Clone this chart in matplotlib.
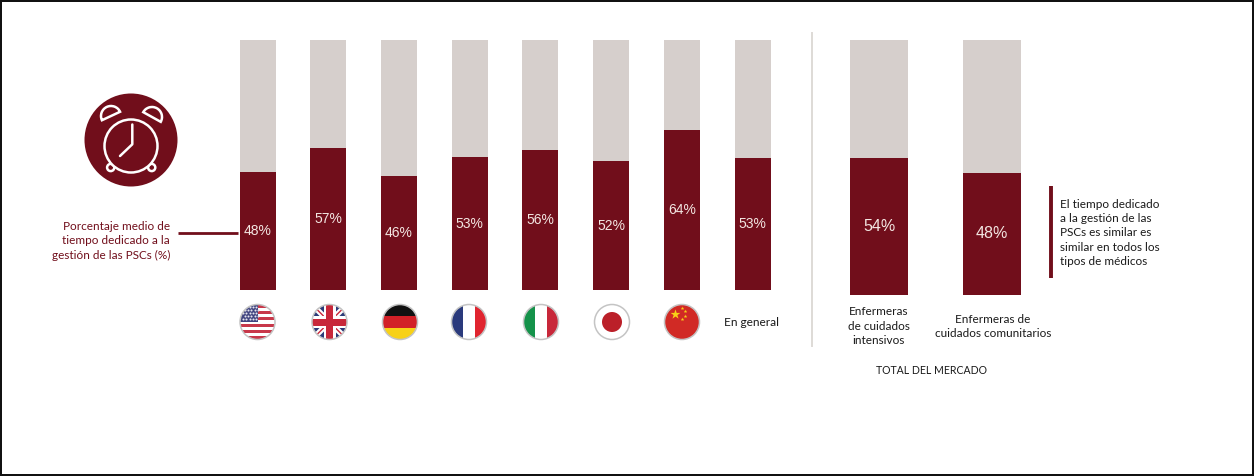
import matplotlib
matplotlib.use("Agg")
import matplotlib.pyplot as plt
from matplotlib.patches import Circle, Rectangle, Wedge

# ---- data ----
country_keys = ["US", "UK", "DE", "FR", "IT", "JP", "CN", "ALL"]
country_labels = [48, 57, 46, 53, 56, 52, 64, 53]          # printed percentages
country_heights = [47.4, 56.7, 45.5, 53.1, 55.9, 51.4, 64.0, 52.9]  # bar heights
nurse_labels_pct = [54, 48]
nurse_heights = [53.9, 48.0]
nurse_labels = ["Enfermeras\nde cuidados\nintensivos", "Enfermeras de\ncuidados comunitarios"]
overall_label = "En general"
metric_label = "Porcentaje medio de\ntiempo dedicado a la\ngestión de las PSCs (%)"
market_label = "TOTAL DEL MERCADO"
note_lines = ["El tiempo dedicado", "a la gestión de las", "PSCs es similar es",
              "similar en todos los", "tipos de médicos"]

W, H = 1254, 476
DARK = "#710e1b"
GREY = "#d6cfcc"
LABEL = "#f3e6e2"
INK = "#1a1a1a"
FONT = ["Lato", "DejaVu Sans"]
NUM = ["Liberation Sans", "DejaVu Sans"]
TXT = 8.45
LS = 1.36

fig = plt.figure(figsize=(W / 100, H / 100), dpi=100, facecolor="white")


def axes_px(x0, y0, x1, y1, **kw):
    return fig.add_axes([x0 / W, 1 - y1 / H, (x1 - x0) / W, (y1 - y0) / H], **kw)


def stacked(ax, heights, labels, width, size):
    xs = range(len(heights))
    ax.bar(xs, [100] * len(heights), width=width, color=GREY, linewidth=0)
    ax.bar(xs, heights, width=width, color=DARK, linewidth=0)
    for x, h, v in zip(xs, heights, labels):
        ax.text(x, h / 2, f"{v}%", ha="center", va="center", color=LABEL,
                fontsize=size, family=NUM)
    ax.set_ylim(0, 100)
    ax.axis("off")


# left group
pitch = (752.5 - 257.5) / 7
ax1 = axes_px(257.5 - pitch / 2, 40, 752.5 + pitch / 2, 290)
ax1.set_xlim(-0.5, 7.5)
stacked(ax1, country_heights, country_labels, 36 / pitch, 10)

# right group
pitch2 = 992 - 879
ax2 = axes_px(879 - pitch2 / 2, 40, 992 + pitch2 / 2, 295)
ax2.set_xlim(-0.5, 1.5)
stacked(ax2, nurse_heights, nurse_labels_pct, 57.5 / pitch2, 11.5)

# overlay in pixel coordinates for the decoration
ov = fig.add_axes([0, 0, 1, 1], zorder=5)
ov.set_xlim(0, W)
ov.set_ylim(H, 0)
ov.axis("off")
ov.patch.set_alpha(0)

# frame
for r in [(0, 0, W, 1.5), (0, 0, 2, H), (W - 2, 0, 2, H), (0, H - 2.5, W, 2.5)]:
    ov.add_patch(Rectangle(r[:2], r[2], r[3], fc="#111111", ec="none"))

# clock icon
ov.add_patch(Circle((131, 140), 46.5, fc=DARK, ec="none"))
lw_i = 1.8
ov.add_patch(Wedge((111, 116), 10, 155, 335, fc="none", ec="white", lw=lw_i))
ov.add_patch(Wedge((152, 117), 10, 209, 389, fc="none", ec="white", lw=lw_i))
for fx in (110.7, 151.7):
    ov.add_patch(Circle((fx, 167.5), 3.6, fc=DARK, ec="white", lw=lw_i, zorder=1.5))
ov.add_patch(Circle((131, 146), 26.5, fc=DARK, ec="white", lw=lw_i, zorder=1.6))
ov.plot([132.3, 132.3, 120], [124.5, 144.3, 156], color="white", lw=lw_i,
        solid_capstyle="round", solid_joinstyle="round", zorder=2)

# left callout
ov.text(170, 241, metric_label, ha="right", va="center", color=DARK, fontsize=TXT,
        family=FONT, linespacing=LS, multialignment="right")
ov.plot([178, 238], [232.5, 232.5], color=DARK, lw=2, solid_capstyle="butt")

# separator
ov.plot([812, 812], [33, 346], color="#dedad6", lw=1.4)

# flags
fy, fr = 322, 17.5


def flag_base(cx):
    return Circle((cx, fy), fr, transform=ov.transData)


def rect(clip, x, y, w, h, c, z=1):
    p = Rectangle((x, y), w, h, fc=c, ec="none", zorder=z)
    ov.add_patch(p)
    p.set_clip_path(clip)


def ring(cx):
    ov.add_patch(Circle((cx, fy), fr, fc="none", ec="#c4c4c4", lw=1.1, zorder=3))


def us(cx):
    c = flag_base(cx)
    n = 11
    sh = 2 * fr / n
    for i in range(n):
        rect(c, cx - fr, fy - fr + i * sh, 2 * fr, sh + 0.1, "#c8384a" if i % 2 == 0 else "white")
    rect(c, cx - fr, fy - fr, fr * 1.05, sh * 5.4, "#40447f")
    xs, ys = [], []
    for j in range(5):
        for i in range(5):
            xs.append(cx - fr + 3 + i * 3.3 + (j % 2) * 1.6)
            ys.append(fy - fr + 2.5 + j * 3)
    pts = ov.scatter(xs, ys, s=2.2, c="#e4e4ee", linewidths=0, zorder=1.2)
    pts.set_clip_path(c)
    ring(cx)


def uk(cx):
    c = flag_base(cx)
    rect(c, cx - fr, fy - fr, 2 * fr, 2 * fr, "#2c3a78", z=0.4)
    for sx in (1, -1):
        for col, lw, z in (("white", 4.0, 0.5), ("#c8283a", 1.0, 0.6)):
            l = ov.plot([cx - fr * sx, cx + fr * sx], [fy - fr, fy + fr], color=col, lw=lw, zorder=z)[0]
            l.set_clip_path(c)
    rect(c, cx - 6, fy - fr, 12, 2 * fr, "white")
    rect(c, cx - fr, fy - 6, 2 * fr, 12, "white")
    rect(c, cx - 3.5, fy - fr, 7, 2 * fr, "#c8283a", z=1.1)
    rect(c, cx - fr, fy - 3.5, 2 * fr, 7, "#c8283a", z=1.1)
    ring(cx)


def de(cx):
    c = flag_base(cx)
    for i, col in enumerate(["#111111", "#d22027", "#f7d117"]):
        rect(c, cx - fr, fy - fr + i * 2 * fr / 3, 2 * fr, 2 * fr / 3 + 0.1, col)
    ring(cx)


def vert(cx, cols):
    c = flag_base(cx)
    for i, col in enumerate(cols):
        rect(c, cx - fr + i * 2 * fr / 3, fy - fr, 2 * fr / 3 + 0.1, 2 * fr, col)
    ring(cx)


def jp(cx):
    ov.add_patch(Circle((cx, fy), fr, fc="white", ec="#c4c4c4", lw=1.1))
    ov.add_patch(Circle((cx, fy), 10, fc="#bb2029", ec="none"))


def cn(cx):
    ov.add_patch(Circle((cx, fy), fr, fc="#d12a25", ec="#c4c4c4", lw=1.1))
    ov.scatter([cx - 7], [fy - 8], marker="*", s=55, c="#f7d117", linewidths=0)
    ov.scatter([cx, cx + 3, cx + 3, cx], [fy - 14, fy - 11, fy - 6.5, fy - 3],
               marker="*", s=8, c="#f7d117", linewidths=0)


us(257.5)
uk(329.5)
de(400)
vert(469, ["#2a3a7c", "white", "#e0242f"])
vert(541, ["#14924a", "white", "#c8283a"])
jp(612)
cn(682)

# category labels
ov.text(752, 322, overall_label, ha="center", va="center", color=INK, fontsize=8.6, family=FONT)
ov.text(879, 326, nurse_labels[0], ha="center", va="center", color=INK, fontsize=TXT,
        family=FONT, linespacing=LS)
ov.text(993, 326.5, nurse_labels[1], ha="center", va="center", color=INK, fontsize=TXT,
        family=FONT, linespacing=LS)
ov.text(932, 370, market_label, ha="center", va="center", color=INK, fontsize=7.6, family=FONT)

# note
ov.plot([1051, 1051], [186, 278], color=DARK, lw=2.8, solid_capstyle="butt")
ov.text(1060, 233, "\n".join(note_lines), ha="left", va="center", color=INK, fontsize=TXT,
        family=FONT, linespacing=LS)

fig.savefig("out.png", dpi=100)
